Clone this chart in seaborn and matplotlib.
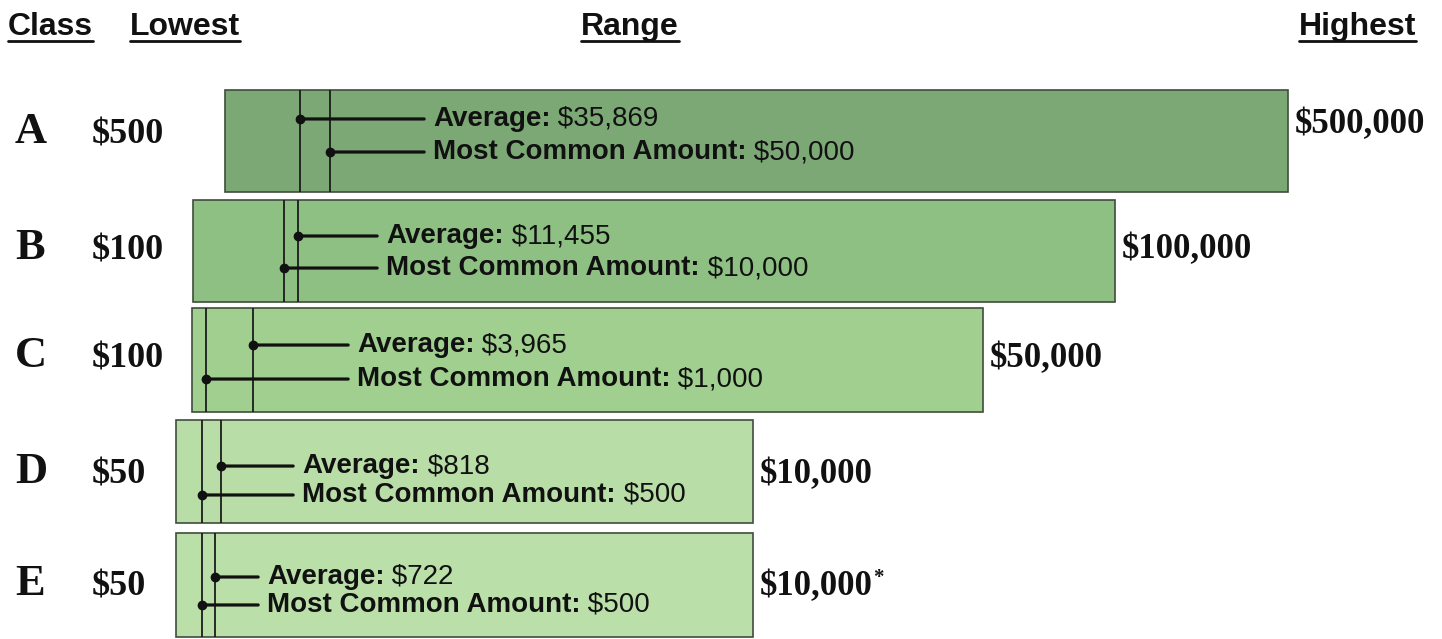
import numpy as np
import seaborn as sns
import matplotlib.pyplot as plt
from matplotlib.lines import Line2D

# data
classes = ["A", "B", "C", "D", "E"]
lowest = [500, 100, 100, 50, 50]
highest = [500000, 100000, 50000, 10000, 10000]
average = [35869, 11455, 3965, 818, 722]
most_common = [50000, 10000, 1000, 500, 500]
high_notes = ["", "", "", "", "*"]

# layout (pixels in a 1442x639 canvas)
W, H = 1442, 639
bar_px = [(225, 1288, 90, 192), (193, 1115, 200, 302), (192, 983, 308, 412),
          (176, 753, 420, 523), (176, 753, 533, 637)]
text_px = [433, 386, 357, 302, 267]
avg_y = [0.716, 0.647, 0.644, 0.553, 0.577]
mode_y = [0.392, 0.333, 0.317, 0.272, 0.308]
left_base = [143, 259, 367, 483, 595]
right_base = [133, 258, 367, 483, 595]
colors = ["#7ca875", "#8fc083", "#a0cf8f", "#b8dda7", "#badfa9"]

sns.set_theme(style="white")
plt.rcParams["font.family"] = ["Liberation Sans", "DejaVu Sans"]

fig = plt.figure(figsize=(W / 100, H / 100), dpi=100)
fig.patch.set_facecolor("white")

serif = dict(family="Liberation Serif", weight="bold", color="#111111")
ann_size = 20

for i, c in enumerate(classes):
    l, r, t, b = bar_px[i]
    ax = fig.add_axes([l / W, 1 - b / H, (r - l) / W, (b - t) / H])
    lo, hi = lowest[i], highest[i]
    ax.set_xlim(lo, hi)
    ax.set_ylim(0, 1)
    ax.axis("off")
    ax.barh(0.5, hi - lo, left=lo, height=1, color=colors[i],
            edgecolor="#3f4d3d", linewidth=1.2, clip_on=False)
    ax.axvline(average[i], color="#1c1c1c", lw=1.3)
    ax.axvline(most_common[i], color="#1c1c1c", lw=1.3)

    tx = (text_px[i] - l) / (r - l)
    for val, yy, lab in [(average[i], avg_y[i], "Average:"),
                         (most_common[i], mode_y[i], "Most Common Amount:")]:
        t_bold = ax.annotate(lab, xy=(val, yy), xytext=(tx, yy),
                             textcoords=("axes fraction", "data"),
                             ha="left", va="center", fontsize=ann_size,
                             fontweight="bold", color="#111111",
                             arrowprops=dict(arrowstyle="-", lw=2.3, color="#111111",
                                             shrinkA=4, shrinkB=0, relpos=(0, 0.5)))
        ax.annotate(" $" + f"{val:,}", xy=(1, 0), xycoords=t_bold,
                    ha="left", va="bottom", fontsize=ann_size, color="#111111")
        ax.plot([val], [yy], "o", ms=6, color="#111111", clip_on=False)

    # highest label at the right end of the bar
    yb = 1 - (right_base[i] - t) / (b - t)
    hl = ax.annotate(f"${hi:,}", xy=(hi, yb), xytext=(5, 0),
                     textcoords="offset points", ha="left", va="baseline",
                     fontsize=25, annotation_clip=False, **serif)
    if high_notes[i]:
        ax.annotate(high_notes[i], xy=(1, 1.05), xycoords=hl, xytext=(0, 0),
                    textcoords="offset points", ha="left", va="top",
                    fontsize=15, **serif)

    # class letter and lowest amount
    fig.text(15 / W, 1 - left_base[i] / H, c, ha="left", va="baseline",
             fontsize=32, **serif)
    fig.text(92 / W, 1 - left_base[i] / H, f"${lowest[i]:,}", ha="left",
             va="baseline", fontsize=26, **serif)

# header with underlines
headers = [("Class", 8, "left"), ("Lowest", 130, "left"),
           ("Range", 630, "center"), ("Highest", 1416, "right")]
head_txt = []
for lab, x, ha in headers:
    head_txt.append(fig.text(x / W, 1 - 35 / H, lab, ha=ha, va="baseline",
                             fontsize=23, fontweight="bold", color="#111111"))

fig.canvas.draw()
renderer = fig.canvas.get_renderer()
for ht in head_txt:
    bb = ht.get_window_extent(renderer).transformed(fig.transFigure.inverted())
    fig.add_artist(Line2D([bb.x0, bb.x1], [1 - 40.5 / H, 1 - 40.5 / H],
                          transform=fig.transFigure, color="#111111", lw=2))

fig.savefig("out.png", dpi=100, facecolor="white")
